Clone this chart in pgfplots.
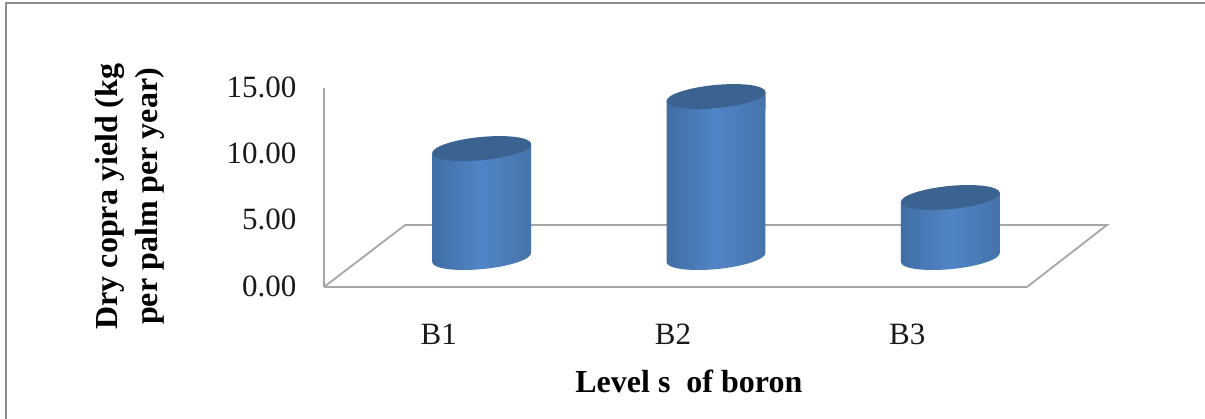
\documentclass[border=0pt]{standalone}
\usepackage{fontspec}
\setmainfont{Liberation Serif}
\usepackage{pgfplots}
\pgfplotsset{compat=1.18}
\definecolor{axgray}{RGB}{166,166,166}
\definecolor{framegray}{RGB}{140,140,140}
\definecolor{captop}{RGB}{59,99,145}
\pgfdeclarehorizontalshading{cylbody}{100bp}{
  rgb(0bp)=(0.15,0.28,0.45);
  rgb(25bp)=(0.25,0.43,0.65);
  rgb(50bp)=(0.32,0.52,0.78);
  rgb(75bp)=(0.27,0.45,0.67);
  rgb(92bp)=(0.20,0.34,0.52);
  rgb(100bp)=(0.15,0.26,0.41)}
\pgfdeclareplotmark{cylinder}{%
  \pgfmathsetmacro\cylH{\v*13.267}%
  \pgfpathmoveto{\pgfpoint{-49.5pt}{-4.5pt}}%
  \pgfpathlineto{\pgfpoint{-49.5pt}{-4.5pt-\cylH pt}}%
  \pgfpatharcaxes{178.71}{358.71}{\pgfpoint{49.47pt}{4.76pt}}{\pgfpoint{-1.11pt}{11.55pt}}%
  \pgfpathlineto{\pgfpoint{49.5pt}{4.5pt}}%
  \pgfpathclose
  \pgfshadepath{cylbody}{0}%
  \pgfusepath{discard}%
  \pgfpathellipse{\pgfpointorigin}{\pgfpoint{49.47pt}{4.76pt}}{\pgfpoint{-1.11pt}{11.55pt}}%
  \pgfsetfillcolor{captop}%
  \pgfusepath{fill}%
}
\begin{document}
\begin{tikzpicture}[x=1pt,y=1pt]
\useasboundingbox (0,0) rectangle (1205,419);
\draw[framegray,line width=2.4pt] (6,-2) -- (6,416) -- (1207,416);
\begin{axis}[
  at={(324pt,132pt)},anchor=south west,
  scale only axis,width=703pt,height=199pt,
  xmin=-0.5,xmax=2.5,ymin=0,ymax=15,
  clip=false,
  axis x line=bottom,axis y line=left,
  axis line style={-,axgray,line width=1.8pt},
  tick style={draw=none},
  xtick={0,1,2},xticklabels={B1,B2,B3},
  ytick={0,5,10,15},
  /pgf/number format/assume math mode=true,
  /pgf/number format/fixed,/pgf/number format/fixed zerofill,/pgf/number format/precision=2,
  tick label style={font=\fontsize{31}{34}\selectfont,text=black!90},
  yticklabel style={xshift=-22pt,yshift=1pt},
  xticklabel style={yshift=-31pt,xshift=-2.5pt},
  ylabel={Dry copra yield (kg\\per palm per year)},
  ylabel style={font=\bfseries\fontsize{32}{40}\selectfont,align=center,rotate=0,
    at={(axis description cs:-0.276,0.455)},anchor=center},
  xlabel={Level s\ \ of boron},
  xlabel style={font=\bfseries\fontsize{32}{36}\selectfont,
    at={(axis description cs:0.519,-0.472)},anchor=center},
]
\addplot[axgray,line width=1.8pt,no markers,forget plot]
  coordinates {(-0.5,0) (-0.154,4.67) (2.841,4.67) (2.5,0)};
\addplot[scatter,only marks,mark=cylinder,xshift=40.5pt,yshift=29.5pt,
  visualization depends on={rawy \as \v},
  scatter src=y]
  coordinates {(0,8.21) (1,12.13) (2,4.52)};
\end{axis}
\end{tikzpicture}
\end{document}
